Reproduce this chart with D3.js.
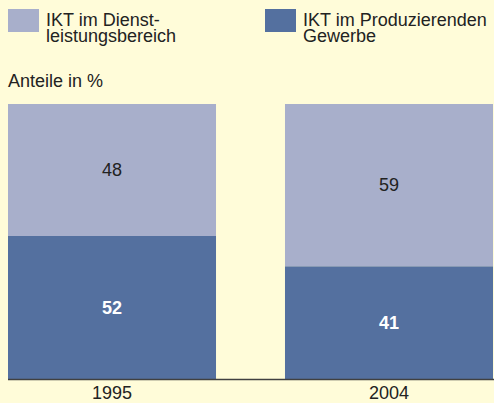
<!DOCTYPE html>
<html>
<head>
<meta charset="utf-8">
<script src="https://cdn.jsdelivr.net/npm/d3@7"></script>
<style>
	body { margin: 0; background: #fffcd9; }
	svg { display: block; font-family: "Liberation Sans", Arial, sans-serif; }
</style>
</head>
<body>
<svg id="chart"></svg>
<script>
var years = [ '1995', '2004' ];
var dienstleistung = [ 48, 59 ];
var produzierend = [ 52, 41 ];
var seriesNames = [ [ 'IKT im Dienst-', 'leistungsbereich' ], [ 'IKT im Produzierenden', 'Gewerbe' ] ];
var colors = [ '#a8afcb', '#54709f' ];

var W = 494, H = 403;
var svg = d3.select( '#chart' ).attr( 'width', W ).attr( 'height', H );

svg.append( 'rect' ).attr( 'width', W ).attr( 'height', H ).attr( 'fill', '#fffcd9' );

var x = d3.scaleBand().domain( years ).range( [ 8, 493 ] ).paddingInner( 0.249 ).paddingOuter( 0 );
var y = d3.scaleLinear().domain( [ 0, 100 ] ).range( [ 379, 104 ] );

var rows = years.map( function( yr, i ) {
	return { year: yr, prod: produzierend[ i ], dienst: dienstleistung[ i ] };
} );

var stack = d3.stack().keys( [ 'prod', 'dienst' ] )( rows );

var layers = svg.selectAll( 'g.layer' ).data( stack )
	.enter().append( 'g' )
	.attr( 'class', 'layer' )
	.attr( 'fill', function( d, i ) { return i === 0 ? colors[ 1 ] : colors[ 0 ]; } );

layers.selectAll( 'rect' ).data( function( d ) { return d; } )
	.enter().append( 'rect' )
	.attr( 'x', function( d ) { return x( d.data.year ); } )
	.attr( 'y', function( d ) { return y( d[ 1 ] ); } )
	.attr( 'width', x.bandwidth() )
	.attr( 'height', function( d ) { return y( d[ 0 ] ) - y( d[ 1 ] ); } );

// value labels
stack.forEach( function( layer, li ) {
	svg.selectAll( null ).data( layer )
		.enter().append( 'text' )
		.attr( 'x', function( d ) { return x( d.data.year ) + x.bandwidth() / 2; } )
		.attr( 'y', function( d ) { return ( y( d[ 0 ] ) + y( d[ 1 ] ) ) / 2; } )
		.attr( 'dy', '0.35em' )
		.attr( 'text-anchor', 'middle' )
		.style( 'font-size', '18px' )
		.style( 'font-weight', li === 0 ? 'bold' : 'normal' )
		.attr( 'fill', li === 0 ? '#ffffff' : '#222222' )
		.text( function( d ) { return d[ 1 ] - d[ 0 ]; } );
} );

// axis
var axis = svg.append( 'g' ).attr( 'transform', 'translate(0,379)' )
	.call( d3.axisBottom( x ).tickSize( 0 ).tickPadding( 7 ) );
axis.select( '.domain' ).attr( 'd', 'M8,0.5H494' ).attr( 'stroke', '#404040' ).attr( 'stroke-width', 1.5 );
axis.selectAll( 'text' )
	.style( 'font-family', '"Liberation Sans", Arial, sans-serif' )
	.style( 'font-size', '18px' )
	.attr( 'fill', '#222222' );

svg.append( 'text' ).attr( 'x', 8 ).attr( 'y', 87 )
	.style( 'font-size', '18px' ).attr( 'fill', '#222222' )
	.text( 'Anteile in %' );

// legend
var legendX = [ 8, 265 ];
var legend = svg.selectAll( 'g.legend' ).data( seriesNames )
	.enter().append( 'g' )
	.attr( 'class', 'legend' )
	.attr( 'transform', function( d, i ) { return 'translate(' + legendX[ i ] + ',9)'; } );

legend.append( 'rect' )
	.attr( 'width', 31 ).attr( 'height', 23 )
	.attr( 'fill', function( d, i ) { return colors[ i ]; } );

legend.append( 'text' )
	.style( 'font-size', '18px' ).attr( 'fill', '#222222' )
	.selectAll( 'tspan' ).data( function( d ) { return d; } )
	.enter().append( 'tspan' )
	.attr( 'x', 38 )
	.attr( 'y', function( d, i ) { return 17 + i * 16; } )
	.text( function( d ) { return d; } );
</script>
</body>
</html>
